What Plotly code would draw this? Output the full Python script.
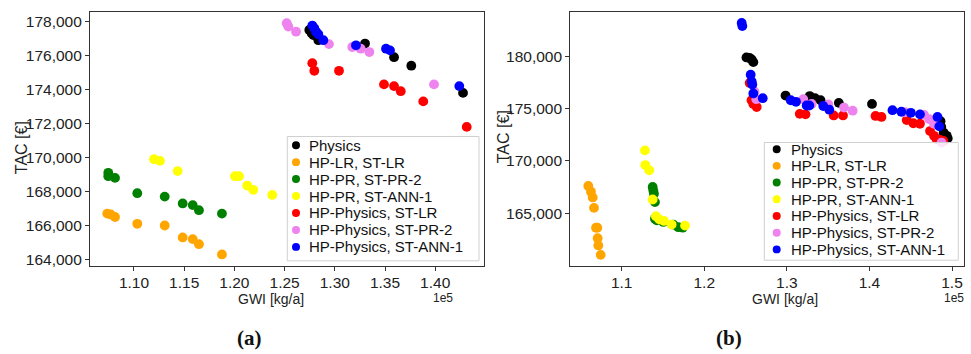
import plotly.graph_objects as go

W, H = 971, 354

# ---------------- data (GWI in units of 1e5 kg/a, TAC in €) ----------------
names = ["Physics", "HP-LR, ST-LR", "HP-PR, ST-PR-2", "HP-PR, ST-ANN-1",
         "HP-Physics, ST-LR", "HP-Physics, ST-PR-2", "HP-Physics, ST-ANN-1"]
colors = ["#000000", "#FFA500", "#008000", "#FFFF00", "#FF0000", "#EE82EE", "#0000FF"]

# panel (a)
phys_a_x = [1.2746, 1.2770, 1.2786, 1.2836, 1.3301, 1.3590, 1.3762, 1.4277]
phys_a_y = [177500, 177300, 177200, 176900, 176700, 175900, 175400, 173800]
lr_a_x = [1.0734, 1.0768, 1.0811, 1.1033, 1.1306, 1.1485, 1.1585, 1.1647, 1.1876]
lr_a_y = [166700, 166650, 166500, 166100, 166000, 165300, 165200, 164900, 164300]
pr2_a_x = [1.0744, 1.0744, 1.0811, 1.1033, 1.1306, 1.1485, 1.1585, 1.1647, 1.1876]
pr2_a_y = [169100, 168900, 168800, 167900, 167700, 167300, 167200, 166900, 166700]
ann_a_x = [1.1199, 1.1259, 1.1435, 1.2006, 1.2046, 1.2128, 1.2188, 1.2377]
ann_a_y = [169900, 169800, 169200, 168900, 168900, 168350, 168100, 167800]
plr_a_x = [1.2776, 1.2796, 1.3042, 1.3490, 1.3590, 1.3657, 1.3881, 1.4314]
plr_a_y = [175550, 175100, 175100, 174300, 174200, 173900, 173300, 171800]
ppr2_a_x = [1.2521, 1.2537, 1.2614, 1.2942, 1.3174, 1.3258, 1.3344, 1.3988]
ppr2_a_y = [177900, 177700, 177400, 176670, 176500, 176400, 176200, 174300]
pann_a_x = [1.2776, 1.2796, 1.2813, 1.2836, 1.2886, 1.3211, 1.3510, 1.3550, 1.4240]
pann_a_y = [177760, 177600, 177400, 177250, 176900, 176600, 176400, 176300, 174200]

# panel (b)
phys_b_x = [1.2511, 1.2548, 1.2574, 1.2594, 1.2984, 1.3277, 1.3341, 1.3408, 1.3629,
            1.4031, 1.4861, 1.4870, 1.4899, 1.4936, 1.4948]
phys_b_y = [179900, 179850, 179700, 179450, 176250, 176200, 176000, 175800, 175550,
            175450, 173800, 173250, 172700, 172400, 172150]
lr_b_x = [1.0596, 1.0628, 1.0649, 1.0665, 1.0689, 1.0705, 1.0709, 1.0717, 1.0746]
lr_b_y = [167600, 167050, 166500, 165500, 163600, 163600, 162600, 161900, 161000]
pr2_b_x = [1.1375, 1.1383, 1.1391, 1.1403, 1.1403, 1.1424, 1.1504, 1.1625, 1.1685, 1.1739]
pr2_b_y = [167500, 167150, 166850, 166050, 164450, 164300, 164150, 163900, 163650, 163600]
ann_b_x = [1.1282, 1.1286, 1.1334, 1.1375, 1.1415, 1.1455, 1.1512, 1.1605, 1.1767]
ann_b_y = [171000, 169600, 169100, 166300, 164700, 164400, 164250, 163900, 163800]
plr_b_x = [1.2550, 1.2572, 1.2594, 1.2635, 1.3156, 1.3226, 1.3567, 1.3680, 1.4074,
           1.4146, 1.4451, 1.4531, 1.4612, 1.4734, 1.4782, 1.4812, 1.4855, 1.4895]
plr_b_y = [177450, 175800, 175450, 175150, 174500, 174450, 174350, 174350, 174300,
           174200, 173900, 173600, 173550, 172850, 172400, 172100, 172000, 171900]
ppr2_b_x = [1.2608, 1.2630, 1.3199, 1.3301, 1.3502, 1.3692, 1.3797, 1.4431, 1.4661,
            1.4722, 1.4782, 1.4873]
ppr2_b_y = [176650, 175900, 175900, 175450, 175400, 175100, 174800, 174650, 174400,
            174000, 173550, 171750]
pann_b_x = [1.2453, 1.2461, 1.2562, 1.2574, 1.2582, 1.2594, 1.2708, 1.3047, 1.3111,
            1.3240, 1.3272, 1.3441, 1.3514, 1.4279, 1.4386, 1.4501, 1.4612, 1.4824, 1.4846]
pann_b_y = [183200, 182900, 178250, 177600, 177300, 176450, 176000, 175800, 175650,
            175300, 175300, 175250, 174900, 174850, 174700, 174600, 174450, 174200, 173300]

ticks_a_x = [1.10, 1.15, 1.20, 1.25, 1.30, 1.35, 1.40]
ticks_a_y = [164000, 166000, 168000, 170000, 172000, 174000, 176000, 178000]
ticks_b_x = [1.1, 1.2, 1.3, 1.4, 1.5]
ticks_b_y = [165000, 170000, 175000, 180000]

series_a = [(phys_a_x, phys_a_y), (lr_a_x, lr_a_y), (pr2_a_x, pr2_a_y), (ann_a_x, ann_a_y),
            (plr_a_x, plr_a_y), (ppr2_a_x, ppr2_a_y), (pann_a_x, pann_a_y)]
series_b = [(phys_b_x, phys_b_y), (lr_b_x, lr_b_y), (pr2_b_x, pr2_b_y), (ann_b_x, ann_b_y),
            (plr_b_x, plr_b_y), (ppr2_b_x, ppr2_b_y), (pann_b_x, pann_b_y)]

# ---------------- figure ----------------
def px(x):
    return x / W

def py(y):
    return 1 - y / H

fig = go.Figure()
for (xs, ys), n, c in zip(series_a, names, colors):
    fig.add_trace(go.Scatter(x=xs, y=ys, mode="markers", name=n, showlegend=False,
                             marker=dict(color=c, size=9.8, line=dict(width=0)),
                             xaxis="x", yaxis="y"))
for (xs, ys), n, c in zip(series_b, names, colors):
    fig.add_trace(go.Scatter(x=xs, y=ys, mode="markers", name=n, showlegend=False,
                             marker=dict(color=c, size=9.8, line=dict(width=0)),
                             xaxis="x2", yaxis="y2"))

FONT = "Liberation Sans, Arial, sans-serif"
axis_common = dict(showline=True, mirror=True, linecolor="#333", linewidth=1.2,
                   ticks="outside", ticklen=4, tickwidth=1, tickcolor="#333",
                   showgrid=False, zeroline=False,
                   tickfont=dict(family=FONT, size=15.5, color="#222"))

ytop, ybot = 11.7, 267.7
fig.update_layout(
    width=W, height=H, margin=dict(l=0, r=0, t=0, b=0),
    paper_bgcolor="white", plot_bgcolor="white", showlegend=False,
    xaxis=dict(domain=[px(90), px(484.3)], range=[1.0562, 1.4489], anchor="y",
               tickvals=ticks_a_x, tickformat=".2f", ticklabelstandoff=-2, **axis_common),
    yaxis=dict(domain=[py(ybot), py(ytop)], range=[163608, 178579], anchor="x",
               tickvals=ticks_a_y, tickformat=",d", **axis_common),
    xaxis2=dict(domain=[px(570.3), px(964)], range=[1.0378, 1.5145], anchor="y2",
                tickvals=ticks_b_x, tickformat=".1f", ticklabelstandoff=-2, **axis_common),
    yaxis2=dict(domain=[py(ybot), py(ytop)], range=[159917, 184284], anchor="x2",
                tickvals=ticks_b_y, tickformat=",d", **axis_common),
)

annotations = []
shapes = []

def text_ann(x, y, t, size=14, xanchor="center", angle=0, family=FONT, color="#222"):
    annotations.append(dict(x=px(x), y=py(y), xref="paper", yref="paper", text=t,
                            showarrow=False, xanchor=xanchor, yanchor="middle",
                            textangle=angle, font=dict(family=family, size=size, color=color)))

# axis titles, offset labels, captions
text_ann(271, 301, "GWI [kg/a]")
text_ann(785, 301, "GWI [kg/a]")
text_ann(21, 149, "TAC [€]", size=16, angle=-90)
text_ann(503, 138, "TAC [€]", size=16, angle=-90)
text_ann(443, 300, "1e5", size=12)
text_ann(954, 300, "1e5", size=12)
text_ann(249, 340, "<b>(a)</b>", size=21, family="Liberation Serif, Times New Roman, serif", color="#111")
text_ann(729, 340, "<b>(b)</b>", size=21, family="Liberation Serif, Times New Roman, serif", color="#111")

# custom legends (matplotlib-like compact layout)
def legend(box, mx, tx, y0, step):
    x0b, y0b, x1b, y1b = box
    shapes.append(dict(type="rect", xref="paper", yref="paper", layer="above",
                       x0=px(x0b), x1=px(x1b), y0=py(y1b), y1=py(y0b),
                       line=dict(color="#d0d0d0", width=1), fillcolor="rgba(255,255,255,0.8)"))
    for i, (n, c) in enumerate(zip(names, colors)):
        yy = y0 + i * step
        r = 4
        shapes.append(dict(type="circle", xref="paper", yref="paper", layer="above",
                           x0=px(mx - r), x1=px(mx + r), y0=py(yy + r), y1=py(yy - r),
                           line=dict(width=0), fillcolor=c))
        text_ann(tx, yy, n, size=15, xanchor="left", color="#111")

legend((287.3, 137.3, 479, 262.3), 296, 306.5, 146.0, 17.05)
legend((764.3, 143.3, 958.3, 261.7), 776.7, 788.5, 150.0, 16.8)

fig.update_layout(annotations=annotations, shapes=shapes)
fig.write_html("out.html")
